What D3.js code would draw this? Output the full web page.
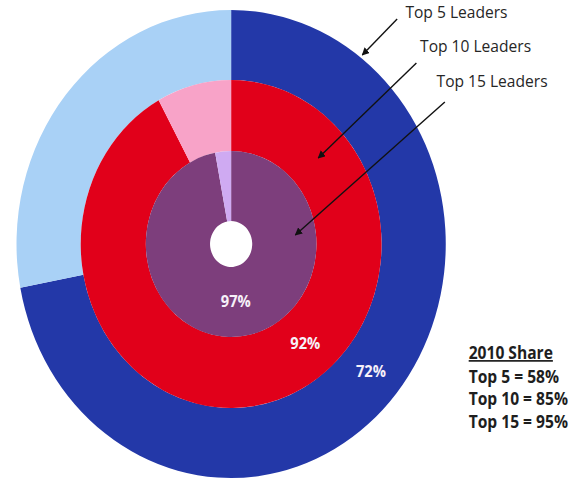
<!DOCTYPE html>
<html>
<head>
<meta charset="utf-8">
<script src="https://cdn.jsdelivr.net/npm/d3@7/dist/d3.min.js"></script>
<style>
  html, body { margin: 0; padding: 0; background: #fff; }
  svg { display: block; }
  text { font-family: "Open Sans", Lato, sans-serif; }
</style>
</head>
<body>
<svg id="chart" width="576" height="485" viewBox="0 0 628 485" preserveAspectRatio="none"></svg>
<script>
// Market share of the leading groups, drawn as three nested rings
const rings = ["Top 5 Leaders", "Top 10 Leaders", "Top 15 Leaders"];
const shareValues = [72, 92, 97];          // share held by each group (%)
const ringColors = ["#2338A8", "#E1001A", "#7D3E7C"];
const restColors = ["#A9D1F6", "#F8A3C8", "#CFAAF2"];

const summaryTitle = "2010 Share";
const summaryLines = ["Top 5 = 58%", "Top 10 = 85%", "Top 15 = 95%"];

const svg = d3.select("#chart");
const cx = 252, cy = 244;

// ring radii, outermost first
const radius = d3.scaleOrdinal().domain(rings).range([[164, 234], [93, 164], [23, 93]]);

const pie = d3.pie().sort(null).value(d => d.v);

const g = svg.append("g").attr("transform", `translate(${cx},${cy})`);

rings.forEach((name, i) => {
  const [r0, r1] = radius(name);
  const arc = d3.arc().innerRadius(r0).outerRadius(r1);
  const parts = pie([
    { v: shareValues[i], c: ringColors[i] },
    { v: 100 - shareValues[i], c: restColors[i] }
  ]);
  g.append("g").selectAll("path")
    .data(parts)
    .join("path")
    .attr("d", arc)
    .attr("fill", d => d.data.c);
});

// percentage labels, placed along the middle of each ring
const labelAngles = [130, 141, 175];
rings.forEach((name, i) => {
  const [r0, r1] = radius(name);
  const r = (r0 + r1) / 2;
  const a = labelAngles[i] * Math.PI / 180;
  g.append("text")
    .attr("x", r * Math.sin(a))
    .attr("y", -r * Math.cos(a) + 5)
    .attr("text-anchor", "middle")
    .attr("font-size", 16)
    .attr("font-weight", 700)
    .attr("fill", "#f6f0f8")
    .text(shareValues[i] + "%");
});

// arrowhead
svg.append("defs").append("marker")
  .attr("id", "head")
  .attr("viewBox", "0 0 10 10")
  .attr("refX", 9).attr("refY", 5)
  .attr("markerWidth", 5).attr("markerHeight", 5)
  .attr("orient", "auto")
  .append("path")
  .attr("d", "M0,0 L10,5 L0,10 Z")
  .attr("fill", "#111");

// callouts: label position and arrow from label to ring
const callouts = [
  { x: 442, y: 18, from: [433, 19], to: [395, 55] },
  { x: 458, y: 52, from: [454, 63], to: [347, 158] },
  { x: 476, y: 87, from: [485, 102], to: [322, 235] }
];
callouts.forEach((c, i) => {
  svg.append("line")
    .attr("x1", c.from[0]).attr("y1", c.from[1])
    .attr("x2", c.to[0]).attr("y2", c.to[1])
    .attr("stroke", "#111")
    .attr("stroke-width", 1.6)
    .attr("marker-end", "url(#head)");
  svg.append("text")
    .attr("x", c.x).attr("y", c.y)
    .attr("font-size", 17)
    .attr("fill", "#262626")
    .text(rings[i]);
});

// summary box
const sx = 511;
svg.append("text")
  .attr("x", sx).attr("y", 359)
  .attr("font-size", 17)
  .attr("font-weight", 700)
  .attr("fill", "#1e1e1e")
  .attr("text-decoration", "underline")
  .text(summaryTitle);
summaryLines.forEach((t, i) => {
  svg.append("text")
    .attr("x", sx).attr("y", 383 + i * 22.3)
    .attr("font-size", 17)
    .attr("font-weight", 700)
    .attr("fill", "#1e1e1e")
    .text(t);
});
</script>
</body>
</html>
